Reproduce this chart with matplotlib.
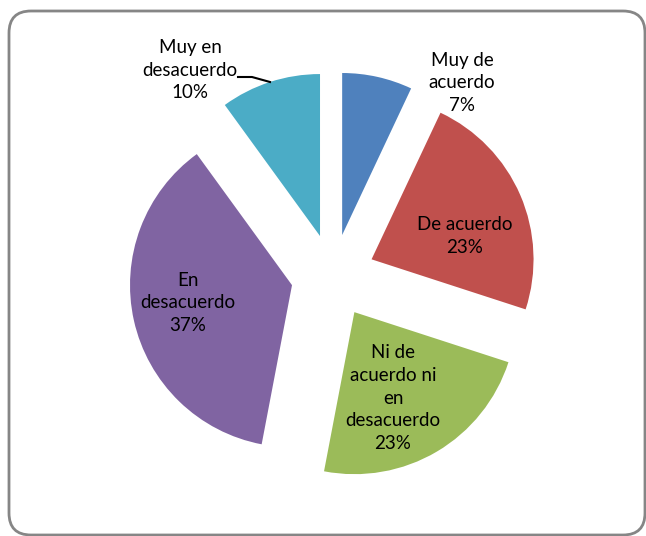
import matplotlib
matplotlib.use('Agg')
import matplotlib.pyplot as plt
from matplotlib.patches import FancyBboxPatch

# data, clockwise from 12 o'clock
categories = ['Muy de\nacuerdo', 'De acuerdo', 'Ni de\nacuerdo ni\nen\ndesacuerdo',
              'En\ndesacuerdo', 'Muy en\ndesacuerdo']
percents = [7, 23, 23, 37, 10]
colors = ['#4F81BD', '#C0504D', '#9BBB59', '#8064A2', '#4BACC6']

W, H = 646, 536
fig = plt.figure(figsize=(W / 100, H / 100), dpi=100)
ax = fig.add_axes([0, 0, 1, 1])

# rounded grey frame
frame = FancyBboxPatch((9, 1), W - 10, H - 12, boxstyle='round,pad=0,rounding_size=22',
                       facecolor='white', edgecolor='#868686', linewidth=2,
                       transform=ax.transData, zorder=0)
ax.add_patch(frame)

radius = 162
# explode is in data units here (pixels)
wedges, _ = ax.pie(percents, colors=colors, startangle=90, counterclock=False,
                   explode=[42] * len(percents), radius=radius,
                   center=(333, H - 276), frame=True,
                   wedgeprops=dict(linewidth=0))
ax.set_xlim(0, W)
ax.set_ylim(0, H)
ax.axis('off')

labels = [c + '\n' + str(p) + '%' for c, p in zip(categories, percents)]
# label positions (pixels from top-left)
label_pos = [(462, 83), (465, 236), (393, 398), (188, 303), (190, 70)]
for lab, (x, y) in zip(labels, label_pos):
    ax.text(x, H - y, lab, ha='center', va='center', fontsize=13.5,
            family='Lato', linespacing=1.42, color='black')

# leader line for the small teal slice label
ax.plot([238, 252, 270], [H - 77, H - 77, H - 82], color='black', lw=1.5)

fig.savefig('out.png', dpi=100)
